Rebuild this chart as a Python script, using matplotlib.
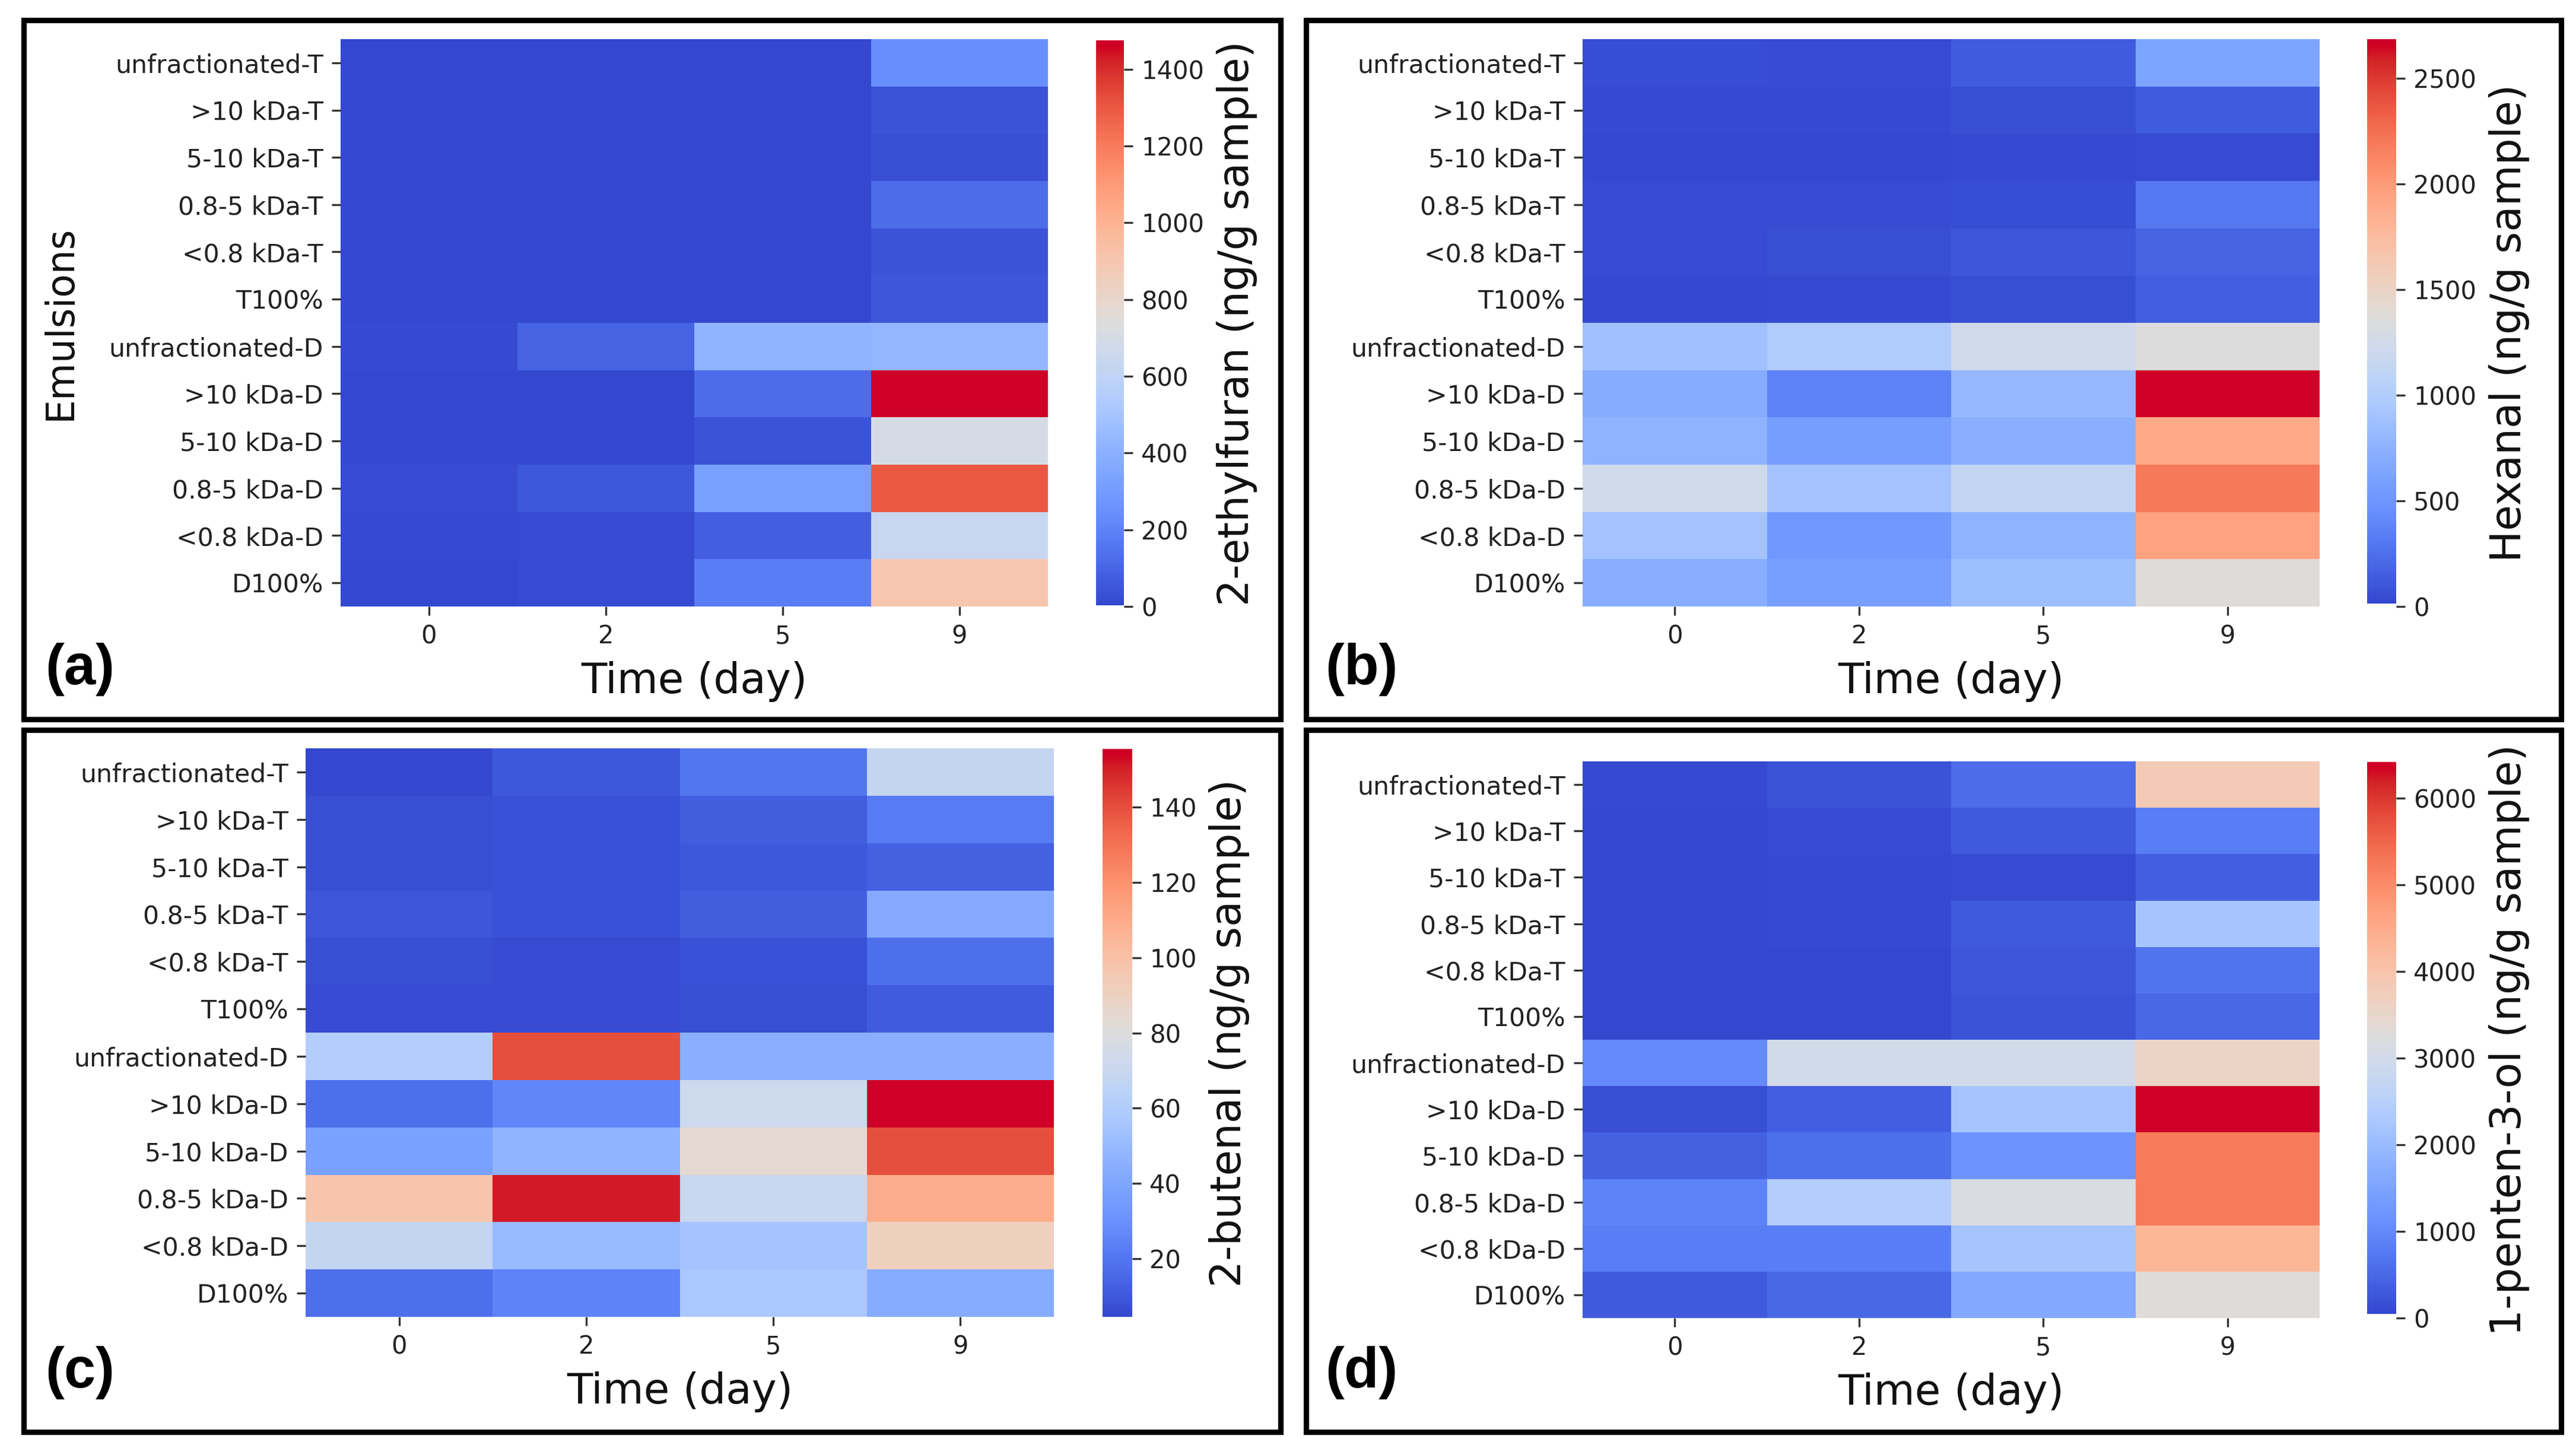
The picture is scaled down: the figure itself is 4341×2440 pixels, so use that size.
import numpy as np
import matplotlib
matplotlib.use("Agg")
import matplotlib.pyplot as plt
from matplotlib.patches import Rectangle
from matplotlib.colors import ListedColormap, rgb_to_hsv, hsv_to_rgb

W, H = 4341, 2440

rows = ['unfractionated-T', '>10 kDa-T', '5-10 kDa-T', '0.8-5 kDa-T', '<0.8 kDa-T', 'T100%',
        'unfractionated-D', '>10 kDa-D', '5-10 kDa-D', '0.8-5 kDa-D', '<0.8 kDa-D', 'D100%']
days = ['0', '2', '5', '9']

# (a) 2-ethylfuran, rows x days
ethylfuran = [
    [5, 5, 5, 240],
    [5, 5, 5, 40],
    [5, 5, 5, 30],
    [5, 5, 5, 120],
    [5, 5, 5, 40],
    [5, 5, 5, 50],
    [10, 90, 420, 430],
    [5, 5, 120, 1475],
    [5, 5, 40, 700],
    [20, 55, 320, 1300],
    [10, 20, 80, 640],
    [3, 15, 180, 900],
]
ethylfuran_ticks = [0, 200, 400, 600, 800, 1000, 1200, 1400]

# (b) hexanal
hexanal = [
    [50, 40, 130, 620],
    [30, 30, 60, 140],
    [20, 20, 30, 40],
    [40, 40, 50, 300],
    [40, 60, 100, 180],
    [15, 30, 60, 160],
    [880, 980, 1230, 1350],
    [700, 360, 800, 2685],
    [760, 560, 730, 1900],
    [1230, 900, 1130, 2200],
    [900, 520, 760, 1950],
    [720, 580, 860, 1380],
]
hexanal_ticks = [0, 500, 1000, 1500, 2000, 2500]

# (c) 2-butenal
butenal = [
    [5, 10, 20, 68],
    [7, 8, 12, 22],
    [7, 8, 10, 13],
    [9, 8, 12, 42],
    [7, 6, 8, 18],
    [6, 6, 7, 11],
    [60, 140, 45, 45],
    [18, 26, 72, 155.5],
    [38, 47, 84, 140],
    [98, 151, 70, 109],
    [68, 50, 55, 91],
    [18, 25, 57, 43],
]
butenal_vmin = 4.5
butenal_ticks = [20, 40, 60, 80, 100, 120, 140]

# (d) 1-penten-3-ol
pentenol = [
    [80, 200, 550, 3850],
    [60, 100, 300, 800],
    [50, 80, 100, 380],
    [60, 80, 300, 2200],
    [60, 60, 250, 650],
    [50, 60, 200, 500],
    [1000, 3000, 3000, 3600],
    [150, 380, 2200, 6420],
    [420, 620, 1150, 5250],
    [900, 2400, 3150, 5250],
    [800, 800, 2200, 4300],
    [300, 520, 1600, 3300],
]
pentenol_ticks = [0, 1000, 2000, 3000, 4000, 5000, 6000]

# coolwarm, a little more vivid like the reference image
cw = plt.get_cmap('coolwarm')(np.linspace(0, 1, 256))[:, :3]
hsv = rgb_to_hsv(cw)
s = hsv[:, 1]
hsv[:, 2] = np.clip(hsv[:, 2] * (1 + 0.15 * s ** 2), 0, 1)
hsv[:, 1] = np.clip(s * 1.08, 0, 1)
cmap = ListedColormap(hsv_to_rgb(hsv))


def box(x0, y0, x1, y1):
    return [x0 / W, 1 - y1 / H, (x1 - x0) / W, (y1 - y0) / H]


fig = plt.figure(figsize=(W / 300, H / 300), dpi=300)

panels = [
    # data, cbar label, ticks, vmin, heatmap box, cbar box, frame box, letter pos
    (ethylfuran, '2-ethylfuran (ng/g sample)', ethylfuran_ticks, None,
     (574, 66, 1766, 1022), (1847, 68, 1894, 1022), (40, 34, 2158, 1212), (76, 1128), '(a)'),
    (hexanal, 'Hexanal (ng/g sample)', hexanal_ticks, None,
     (2667, 66, 3909, 1022), (3989, 66, 4038, 1022), (2201, 34, 4316, 1212), (2233, 1128), '(b)'),
    (butenal, '2-butenal (ng/g sample)', butenal_ticks, butenal_vmin,
     (515, 1261, 1776, 2219), (1858, 1262, 1908, 2219), (40, 1230, 2158, 2413), (76, 2313), '(c)'),
    (pentenol, '1-penten-3-ol (ng/g sample)', pentenol_ticks, None,
     (2667, 1283, 3909, 2221), (3989, 1284, 4038, 2221), (2201, 1230, 4316, 2413), (2233, 2313), '(d)'),
]

for i, (vals, clabel, cticks, vmin, hbox, cbox, fbox, lpos, letter) in enumerate(panels):
    data = np.array(vals, dtype=float)
    lo = data.min() if vmin is None else vmin
    hi = data.max()

    ax = fig.add_axes(box(*hbox))
    mesh = ax.pcolormesh(data, cmap=cmap, vmin=lo, vmax=hi)
    ax.set_xlim(0, len(days))
    ax.set_ylim(len(rows), 0)
    ax.set_xticks(np.arange(len(days)) + 0.5)
    ax.set_xticklabels(days, fontsize=10)
    ax.set_yticks(np.arange(len(rows)) + 0.5)
    ax.set_yticklabels(rows, fontsize=10.2)
    ax.tick_params(color='#333333', labelcolor='#222222')
    for sp in ax.spines.values():
        sp.set_visible(False)
    ax.set_xlabel('Time (day)', fontsize=17, labelpad=5, color='#111111')
    if i == 0:
        ax.set_ylabel('Emulsions', fontsize=15.5, labelpad=12, color='#111111')

    cax = fig.add_axes(box(*cbox))
    cb = fig.colorbar(mesh, cax=cax)
    cb.outline.set_visible(False)
    cb.set_ticks(cticks)
    cb.ax.tick_params(labelsize=10, color='#333333', labelcolor='#222222')
    cb.set_label(clabel, fontsize=17, labelpad=5, color='#111111')

    x0, y0, x1, y1 = fbox
    fig.add_artist(Rectangle((x0 / W, 1 - y1 / H), (x1 - x0) / W, (y1 - y0) / H,
                             transform=fig.transFigure, fill=False, lw=2.2, ec='black'))
    fig.text(lpos[0] / W, 1 - lpos[1] / H, letter, fontsize=23, fontweight='bold',
             family=['Liberation Sans', 'DejaVu Sans'], va='center', ha='left')

fig.savefig('out.png', dpi=300)
